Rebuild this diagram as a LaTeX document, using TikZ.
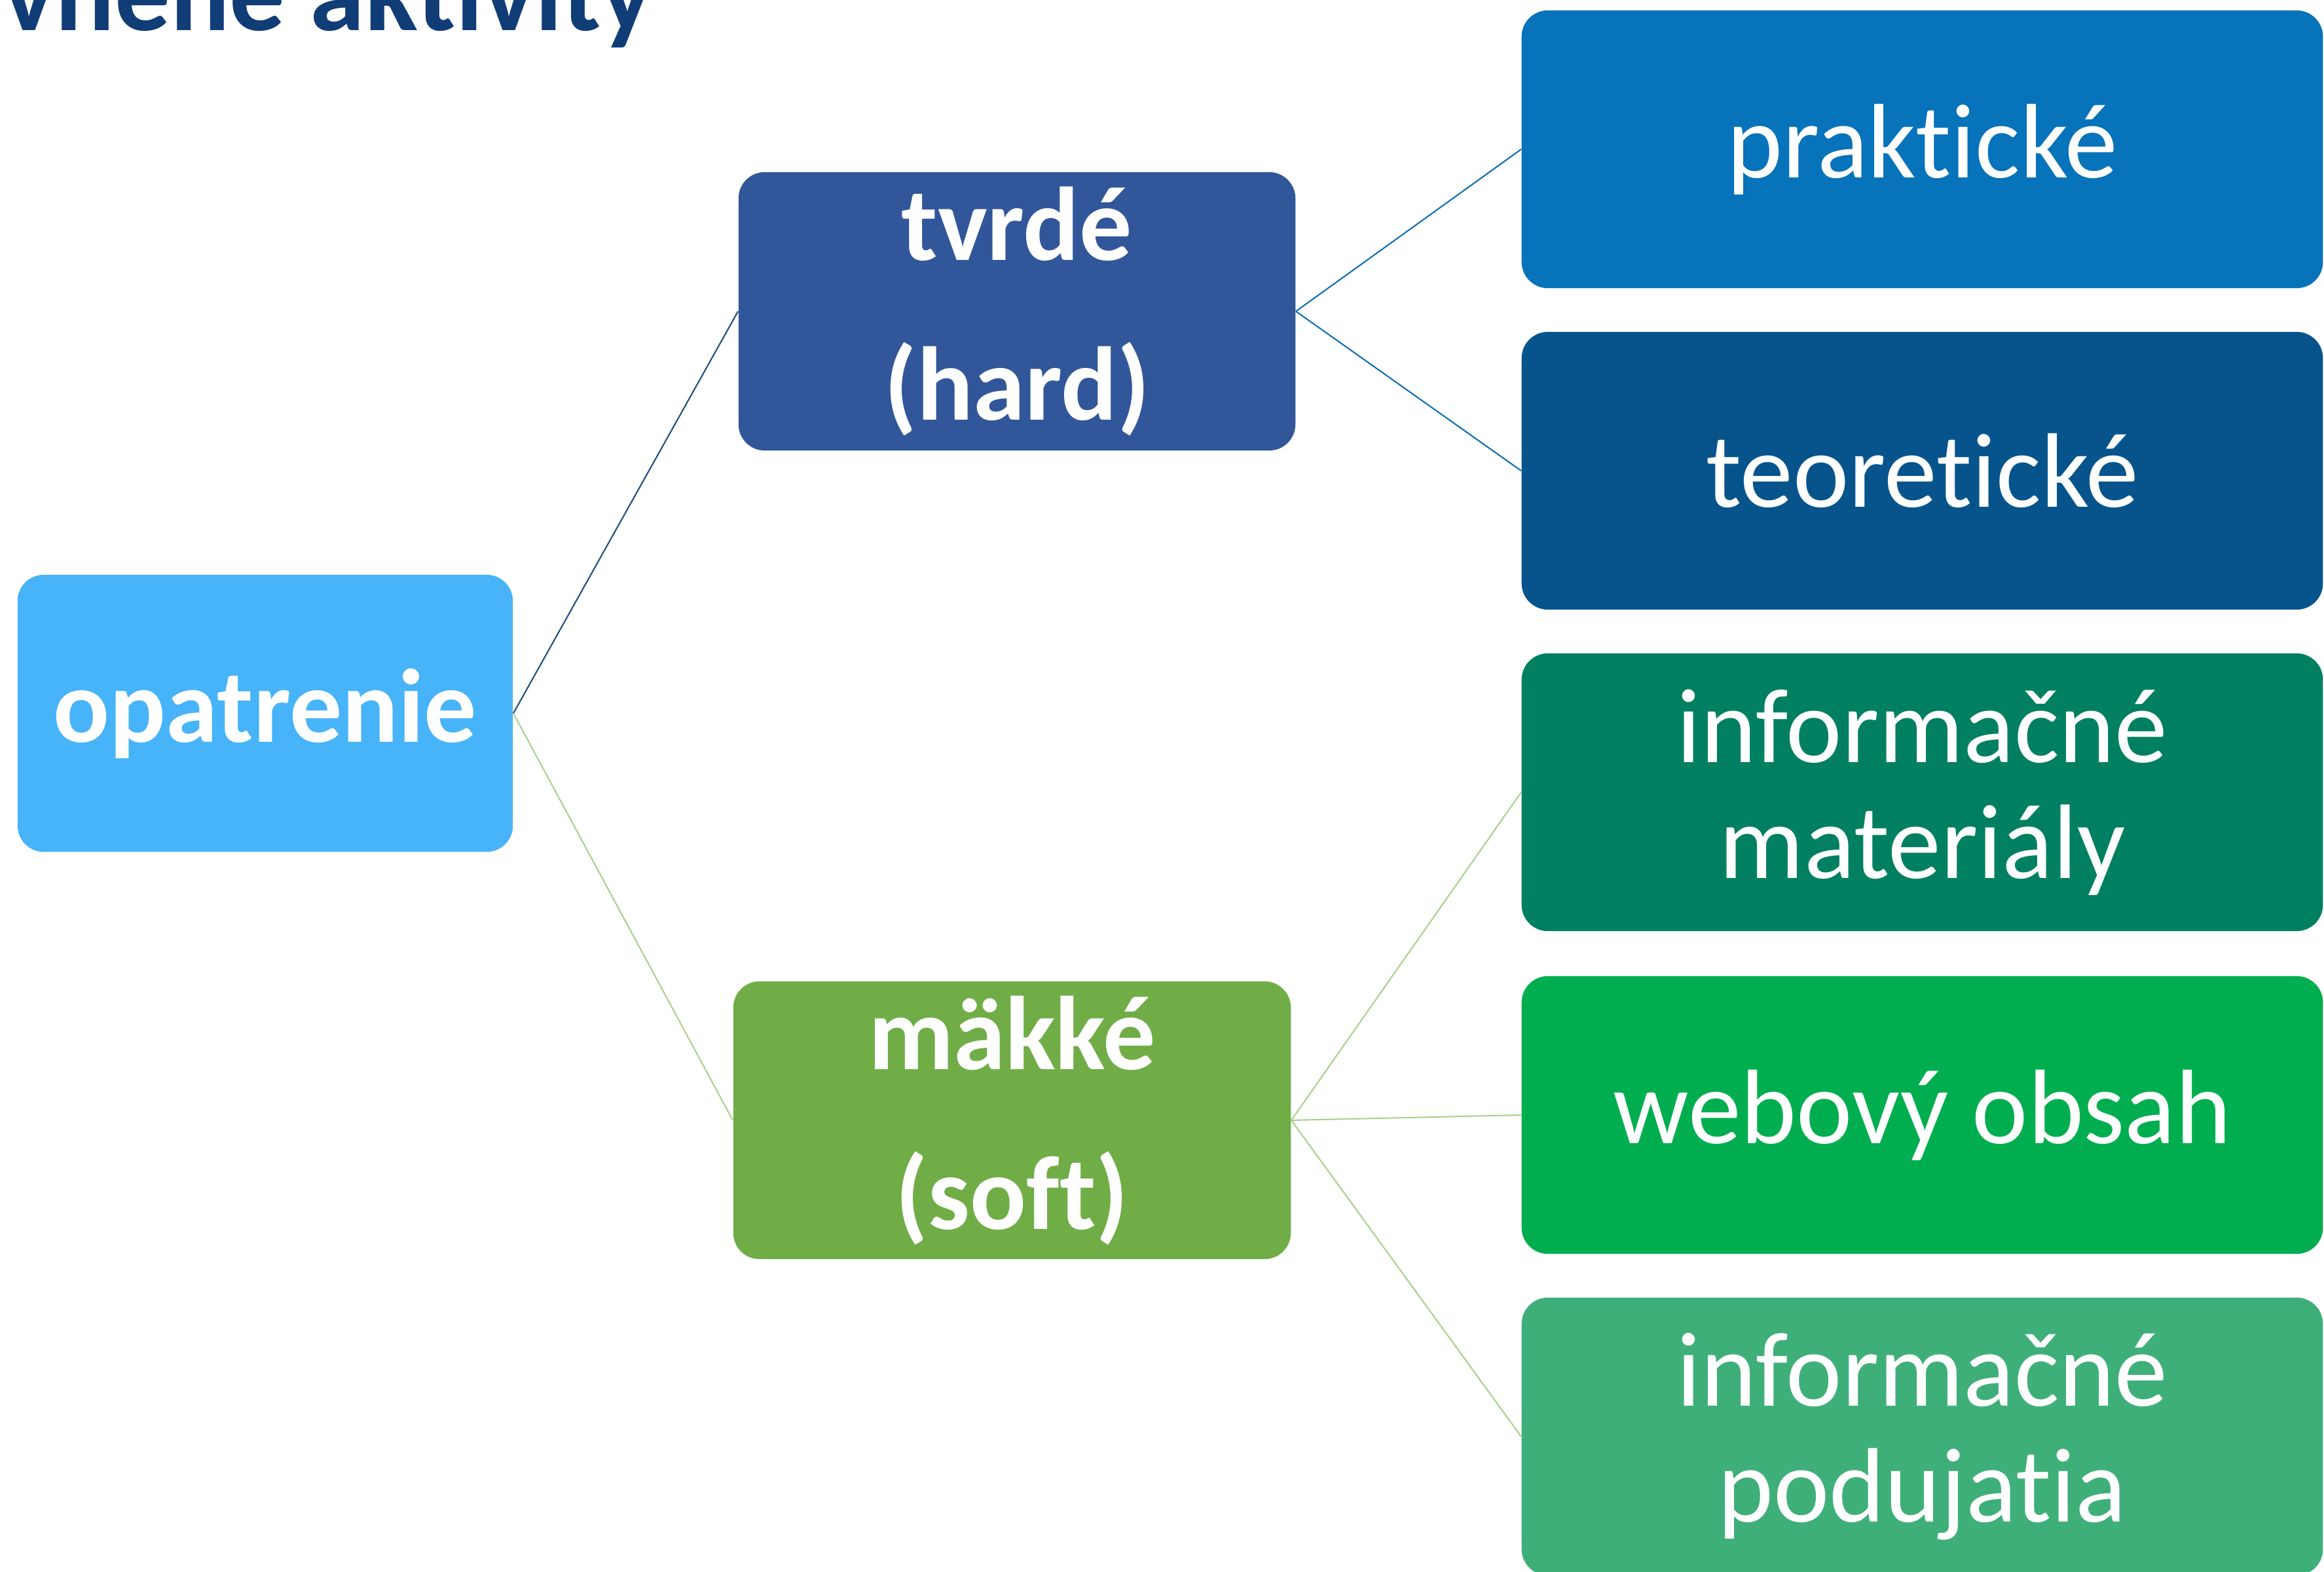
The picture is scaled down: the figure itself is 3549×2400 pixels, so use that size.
\documentclass[tikz,border=0pt]{standalone}
\usepackage{fontspec}
\setmainfont{Carlito}[Ligatures=NoCommon, RawFeature={-liga;-clig;-dlig}]
\definecolor{cop}{HTML}{47B3F8}
\definecolor{chard}{HTML}{31579A}
\definecolor{csoft}{HTML}{70AD47}
\definecolor{cprak}{HTML}{0673BA}
\definecolor{cteor}{HTML}{07548C}
\definecolor{cinfm}{HTML}{008060}
\definecolor{cweb}{HTML}{00AE4F}
\definecolor{cinfp}{HTML}{3FAF7A}
\definecolor{ctitle}{HTML}{113D77}
\definecolor{lnavy}{HTML}{1F4E79}
\definecolor{lblue}{HTML}{0E6FB5}
\definecolor{lgreen}{HTML}{A9D18E}
\begin{document}
\begin{tikzpicture}[x=0.01cm,y=-0.01cm,
  leftbox/.style={rounded corners=0.4cm, inner sep=0pt, text=white, align=center,
    font=\fontsize{45.5pt}{69.4pt}\selectfont\bfseries},
  rightbox/.style={rounded corners=0.4cm, inner sep=0pt, text=white, align=center,
    minimum width=12.23cm, minimum height=4.24cm,
    font=\fontsize{46pt}{50.4pt}\selectfont},
  link/.style={line width=0.6pt},
  titletext/.style={text=ctitle, inner sep=0pt, font=\fontsize{48pt}{58pt}\selectfont\bfseries}]
\useasboundingbox (0,0) rectangle (3549,2400);
\clip (0,0) rectangle (3549,2400);

\node[titletext, anchor=base east] (title) at (998,47) {vnené aktivity};

\node[leftbox, fill=cop, minimum width=7.56cm, minimum height=4.23cm] (op) at (405,1089.5) {opatrenie};
\node[leftbox, fill=chard, minimum width=8.50cm, minimum height=4.25cm] (hard) at (1553,475.5) {tvrdé\\(hard)};
\node[leftbox, fill=csoft, minimum width=8.51cm, minimum height=4.24cm] (soft) at (1545.5,1711) {mäkké\\(soft)};

\node[rightbox, fill=cprak] (prak) at (2935.5,228) {praktické};
\node[rightbox, fill=cteor] (teor) at (2935.5,719) {teoretické};
\node[rightbox, fill=cinfm] (infm) at (2935.5,1210) {informačné\\materiály};
\node[rightbox, fill=cweb] (web) at (2935.5,1703) {webový obsah};
\node[rightbox, fill=cinfp] (infp) at (2935.5,2194) {informačné\\podujatia};

\draw[link, lnavy] (op.east) -- (hard.west);
\draw[link, lgreen] (op.east) -- (soft.west);
\draw[link, lblue] (hard.east) -- (prak.west);
\draw[link, lblue] (hard.east) -- (teor.west);
\draw[link, lgreen] (soft.east) -- (infm.west);
\draw[link, lgreen] (soft.east) -- (web.west);
\draw[link, lgreen] (soft.east) -- (infp.west);
\end{tikzpicture}
\end{document}
